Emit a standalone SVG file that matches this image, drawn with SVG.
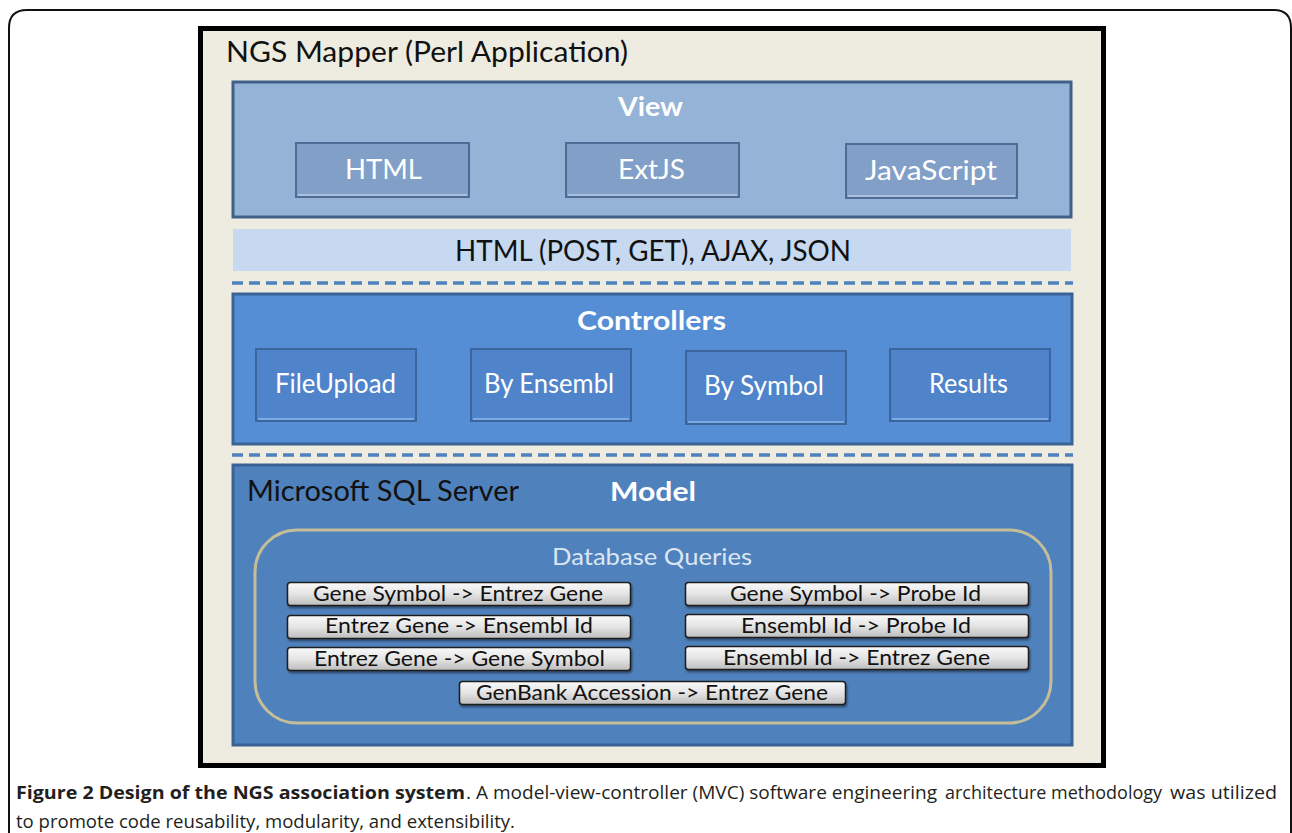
<svg xmlns="http://www.w3.org/2000/svg" width="1292" height="833" viewBox="0 0 1292 833">
<defs>
<linearGradient id="btn" x1="0" y1="0" x2="0" y2="1">
<stop offset="0" stop-color="#FAFAFA"/>
<stop offset="0.5" stop-color="#E4E4E4"/>
<stop offset="1" stop-color="#BDBDBD"/>
</linearGradient>
<filter id="sh" x="-5%" y="-20%" width="110%" height="150%">
<feDropShadow dx="1" dy="2" stdDeviation="1.2" flood-color="#000" flood-opacity="0.45"/>
</filter>
</defs>
<style>
.cal{font-family:Lato,"Open Sans","Liberation Sans",sans-serif}
.hdr{font-weight:bold;font-size:27px;fill:#FFFFFF}
.vbox{fill:#829FC8;stroke:#4D6B95;stroke-width:2}
.cbox{fill:#4F84CB;stroke:#3A659F;stroke-width:2}
.lbl{font-size:26px;fill:#FFFFFF}
.q{fill:url(#btn);stroke:#1E1E1E;stroke-width:1.5}
.qt{font-size:21px;fill:#111111}
.dash{stroke:#4F81BD;stroke-width:3.5;stroke-dasharray:11 6;fill:none}
.cap{font-family:"Open Sans","Liberation Sans",sans-serif;font-size:18px;fill:#231F20}
</style>
<rect x="0" y="0" width="1292" height="833" fill="#FFFFFF"/>
<path d="M9 845 V28 Q9 10 27 10 H1274 Q1291 10 1291 28 V845" fill="none" stroke="#111" stroke-width="2"/>
<g id="app">
<rect x="200.500" y="28.500" width="903" height="737" fill="#EEEBE0" stroke="#000" stroke-width="5"/>
<text class="cal" x="226" y="62" font-size="28" fill="#111" textLength="402" lengthAdjust="spacingAndGlyphs">NGS Mapper (Perl Application)</text>
</g>
<g id="view">
<rect x="233" y="82" width="838" height="135" fill="#95B3D7" stroke="#3F6088" stroke-width="3"/>
<text class="cal hdr" x="618" y="116" textLength="65" lengthAdjust="spacingAndGlyphs">View</text>
</g>
<g id="html">
<rect class="vbox" x="296" y="143" width="173" height="54"/>
<line x1="298" y1="195" x2="467" y2="195" stroke="#A9C0DE" stroke-width="2"/>
<text class="cal lbl" x="345" y="179" textLength="77" lengthAdjust="spacingAndGlyphs">HTML</text>
</g>
<g id="extjs">
<rect class="vbox" x="566" y="143" width="173" height="54"/>
<line x1="568" y1="195" x2="737" y2="195" stroke="#A9C0DE" stroke-width="2"/>
<text class="cal lbl" x="618" y="179" textLength="67" lengthAdjust="spacingAndGlyphs">ExtJS</text>
</g>
<g id="javascript">
<rect class="vbox" x="846" y="144" width="171" height="54"/>
<line x1="848" y1="196" x2="1015" y2="196" stroke="#A9C0DE" stroke-width="2"/>
<text class="cal lbl" x="865" y="180" textLength="132" lengthAdjust="spacingAndGlyphs">JavaScript</text>
</g>
<g id="protocols">
<rect x="233" y="229" width="838" height="42" fill="#C6D9F1"/>
<text class="cal" x="455" y="261" font-size="28" fill="#111" textLength="396" lengthAdjust="spacingAndGlyphs">HTML (POST, GET), AJAX, JSON</text>
</g>
<g id="connectors">
<line class="dash" x1="232" y1="283" x2="1073" y2="283"/>
<line class="dash" x1="232" y1="455" x2="1073" y2="455"/>
</g>
<g id="controllers">
<rect x="233" y="294" width="839" height="150" fill="#558ED5" stroke="#3A6294" stroke-width="3"/>
<text class="cal hdr" x="577" y="330" textLength="149" lengthAdjust="spacingAndGlyphs">Controllers</text>
</g>
<g id="fileupload">
<rect class="cbox" x="256" y="349" width="160" height="72"/>
<line x1="258" y1="419" x2="414" y2="419" stroke="#7EAAE3" stroke-width="2"/>
<text class="cal lbl" x="275" y="393" textLength="121" lengthAdjust="spacingAndGlyphs">FileUpload</text>
</g>
<g id="byensembl">
<rect class="cbox" x="471" y="349" width="160" height="72"/>
<line x1="473" y1="419" x2="629" y2="419" stroke="#7EAAE3" stroke-width="2"/>
<text class="cal lbl" x="484" y="393" textLength="130" lengthAdjust="spacingAndGlyphs">By Ensembl</text>
</g>
<g id="bysymbol">
<rect class="cbox" x="686" y="351" width="160" height="73"/>
<line x1="688" y1="422" x2="844" y2="422" stroke="#7EAAE3" stroke-width="2"/>
<text class="cal lbl" x="704" y="395" textLength="120" lengthAdjust="spacingAndGlyphs">By Symbol</text>
</g>
<g id="results">
<rect class="cbox" x="890" y="349" width="160" height="72"/>
<line x1="892" y1="419" x2="1048" y2="419" stroke="#7EAAE3" stroke-width="2"/>
<text class="cal lbl" x="929" y="393" textLength="79" lengthAdjust="spacingAndGlyphs">Results</text>
</g>
<g id="model">
<rect x="233" y="465" width="839" height="280" fill="#4F81BD" stroke="#3A6294" stroke-width="3"/>
<text class="cal" x="247" y="501" font-size="28" fill="#111" textLength="272" lengthAdjust="spacingAndGlyphs">Microsoft SQL Server</text>
<text class="cal hdr" x="610" y="501" textLength="86" lengthAdjust="spacingAndGlyphs">Model</text>
</g>
<g id="queries">
<rect x="255" y="530" width="796" height="193" rx="42" fill="none" stroke="#C4BD97" stroke-width="3"/>
<text class="cal" x="552" y="565" font-size="24" fill="#DCE6F2" textLength="200" lengthAdjust="spacingAndGlyphs">Database Queries</text>
</g>
<g id="q1">
<rect class="q" x="287.500" y="582.500" width="343" height="23" rx="3" filter="url(#sh)"/>
<text class="cal qt" x="313" y="601" textLength="290" lengthAdjust="spacingAndGlyphs">Gene Symbol -&gt; Entrez Gene</text>
</g>
<g id="q2">
<rect class="q" x="287.500" y="615.500" width="343" height="23" rx="3" filter="url(#sh)"/>
<text class="cal qt" x="325" y="633" textLength="268" lengthAdjust="spacingAndGlyphs">Entrez Gene  -&gt; Ensembl Id</text>
</g>
<g id="q3">
<rect class="q" x="287.500" y="647.500" width="343" height="23" rx="3" filter="url(#sh)"/>
<text class="cal qt" x="314" y="666" textLength="291" lengthAdjust="spacingAndGlyphs">Entrez Gene  -&gt; Gene Symbol</text>
</g>
<g id="q4">
<rect class="q" x="685.500" y="582.500" width="343" height="23" rx="3" filter="url(#sh)"/>
<text class="cal qt" x="730" y="601" textLength="251" lengthAdjust="spacingAndGlyphs">Gene Symbol -&gt; Probe Id</text>
</g>
<g id="q5">
<rect class="q" x="685.500" y="614.500" width="343" height="23" rx="3" filter="url(#sh)"/>
<text class="cal qt" x="741" y="633" textLength="230" lengthAdjust="spacingAndGlyphs">Ensembl Id -&gt; Probe Id</text>
</g>
<g id="q6">
<rect class="q" x="685.500" y="646.500" width="343" height="23" rx="3" filter="url(#sh)"/>
<text class="cal qt" x="723" y="665" textLength="267" lengthAdjust="spacingAndGlyphs">Ensembl Id -&gt; Entrez Gene</text>
</g>
<g id="q7">
<rect class="q" x="459.500" y="681.500" width="386" height="23" rx="3" filter="url(#sh)"/>
<text class="cal qt" x="476" y="700" textLength="352" lengthAdjust="spacingAndGlyphs">GenBank Accession -&gt; Entrez Gene</text>
</g>
<g id="caption">
<text class="cap" x="16" y="799" font-weight="bold" textLength="449" lengthAdjust="spacingAndGlyphs">Figure 2 Design of the NGS association system</text>
<text class="cap" x="466" y="799" textLength="471" lengthAdjust="spacingAndGlyphs">. A model-view-controller (MVC) software engineering</text>
<text class="cap" x="945" y="799" textLength="217" lengthAdjust="spacingAndGlyphs">architecture methodology</text>
<text class="cap" x="1170" y="799" textLength="107" lengthAdjust="spacingAndGlyphs">was utilized</text>
<text class="cap" x="16" y="828" textLength="499" lengthAdjust="spacingAndGlyphs">to promote code reusability, modularity, and extensibility.</text>
</g>
</svg>
